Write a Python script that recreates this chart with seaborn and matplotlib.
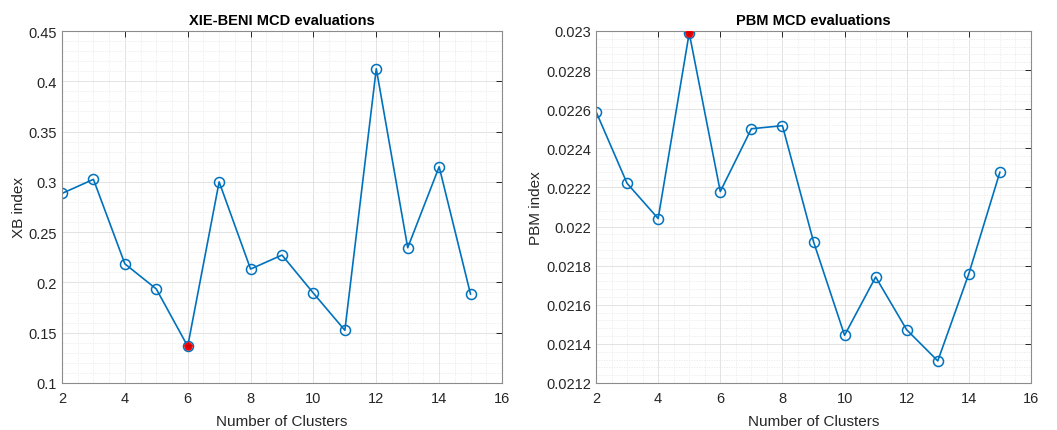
import matplotlib
matplotlib.use("Agg")
import matplotlib.pyplot as plt
from matplotlib.ticker import MultipleLocator
import seaborn as sns
import pandas as pd

clusters = [2, 3, 4, 5, 6, 7, 8, 9, 10, 11, 12, 13, 14, 15]
xb_values = [0.2885, 0.3025, 0.2185, 0.1935, 0.1365, 0.3000, 0.2133, 0.2272,
             0.1893, 0.1524, 0.4125, 0.2345, 0.3150, 0.1882]
pbm_values = [0.022588, 0.022221, 0.022041, 0.022990, 0.022179, 0.022500,
              0.022516, 0.021923, 0.021444, 0.021742, 0.021472, 0.021313,
              0.021759, 0.022279]

sns.set_style("white")
plt.rcParams['font.family'] = ['Liberation Sans', 'DejaVu Sans']

blue = "#0072BD"
axis_col = "#262626"

fig = plt.figure(figsize=(10.57, 4.31), dpi=100)
ax1 = fig.add_axes([62/1057, 1-384/431, (502-62)/1057, (384-32)/431])
ax2 = fig.add_axes([596/1057, 1-384/431, (1031-596)/1057, (384-32)/431])

def style(ax, title, ylabel, ylim, ymajor, yminor):
    ax.set_xlim(2, 16)
    ax.set_ylim(*ylim)
    ax.xaxis.set_major_locator(MultipleLocator(2))
    ax.xaxis.set_minor_locator(MultipleLocator(0.5))
    ax.yaxis.set_major_locator(MultipleLocator(ymajor))
    ax.yaxis.set_minor_locator(MultipleLocator(yminor))
    ax.grid(True, which='major', color="#DEDEDE", linewidth=0.6, linestyle='-')
    ax.grid(True, which='minor', color="#EAEAEA", linewidth=0.6, linestyle=(0, (1.5, 1.5)))
    ax.set_axisbelow(True)
    for s in ax.spines.values():
        s.set_visible(True)
        s.set_color("#8C8C8C")
        s.set_linewidth(0.8)
    ax.tick_params(which='major', direction='in', length=4, color=axis_col,
                   labelsize=10.5, labelcolor=axis_col, top=True, right=True, width=0.7)
    ax.tick_params(axis='x', which='major', pad=6)
    ax.tick_params(which='minor', length=0)
    ax.set_title(title, fontsize=10.5, fontweight='bold', color='black', pad=5)
    ax.set_xlabel("Number of Clusters", fontsize=11, color=axis_col, labelpad=6)
    ax.set_ylabel(ylabel, fontsize=11, color=axis_col, labelpad=2)

df1 = pd.DataFrame({"k": clusters, "v": xb_values})
df2 = pd.DataFrame({"k": clusters, "v": pbm_values})

for ax, df in ((ax1, df1), (ax2, df2)):
    sns.lineplot(data=df, x="k", y="v", ax=ax, color=blue, linewidth=1.2,
                 marker='o', markersize=7.2, markerfacecolor='none',
                 markeredgecolor=blue, markeredgewidth=1.1)

best1 = df1.loc[[df1["v"].idxmin()]]
best2 = df2.loc[[df2["v"].idxmax()]]
for ax, b in ((ax1, best1), (ax2, best2)):
    sns.scatterplot(data=b, x="k", y="v", ax=ax, color='red', marker='o', s=30,
                    edgecolor='red', linewidth=0.5, zorder=5)
    sns.scatterplot(data=b, x="k", y="v", ax=ax, color='#CC0000', marker='*', s=45,
                    edgecolor='red', linewidth=0.3, zorder=6)

style(ax1, "XIE-BENI MCD evaluations", "XB index", (0.1, 0.45), 0.05, 0.01)
style(ax2, "PBM MCD evaluations", "PBM index", (0.0212, 0.023), 0.0002, 0.00004)
ax1.set_yticks([0.1, 0.15, 0.2, 0.25, 0.3, 0.35, 0.4, 0.45])
ax1.set_yticklabels(["0.1", "0.15", "0.2", "0.25", "0.3", "0.35", "0.4", "0.45"])
pbm_ticks = [0.0212, 0.0214, 0.0216, 0.0218, 0.022, 0.0222, 0.0224, 0.0226, 0.0228, 0.023]
ax2.set_yticks(pbm_ticks)
ax2.set_yticklabels(["0.0212", "0.0214", "0.0216", "0.0218", "0.022", "0.0222",
                     "0.0224", "0.0226", "0.0228", "0.023"])
ax2.set_ylim(0.0212, 0.023)
ax1.set_ylim(0.1, 0.45)

fig.savefig("out.png", dpi=100, facecolor='white')
